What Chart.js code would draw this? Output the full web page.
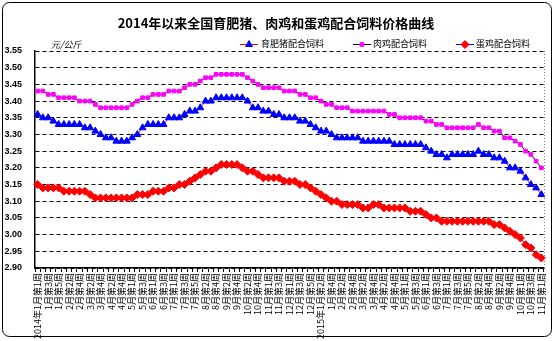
<!DOCTYPE html>
<html><head><meta charset="utf-8">
<script src="https://cdn.jsdelivr.net/npm/chart.js@4/dist/chart.umd.min.js"></script>
<style>html,body{margin:0;padding:0;background:#fff}#wrap{width:554px;height:341px;position:relative}</style>
</head><body><div id="wrap"><canvas id="c" width="554" height="341"></canvas></div>
<script>
const chartTitle = '2014年以来全国育肥猪、肉鸡和蛋鸡配合饲料价格曲线';
const unitLabel = '元/公斤';
const seriesNames = ['育肥猪配合饲料', '肉鸡配合饲料', '蛋鸡配合饲料'];
const weekLabels = [
 '2014年1月第1周','1月第2周','1月第3周','1月第4周','1月第5周',
 '2月第1周','2月第2周','2月第3周','2月第4周',
 '3月第1周','3月第2周','3月第3周','3月第4周',
 '4月第1周','4月第2周','4月第3周','4月第4周','4月第5周',
 '5月第1周','5月第2周','5月第3周','5月第4周',
 '6月第1周','6月第2周','6月第3周','6月第4周',
 '7月第1周','7月第2周','7月第3周','7月第4周','7月第5周',
 '8月第1周','8月第2周','8月第3周','8月第4周',
 '9月第1周','9月第2周','9月第3周','9月第4周',
 '10月第1周','10月第2周','10月第3周','10月第4周','10月第5周',
 '11月第1周','11月第2周','11月第3周','11月第4周',
 '12月第1周','12月第2周','12月第3周','12月第4周','12月第5周',
 '1月第1周','2015年1月第2周','1月第3周','1月第4周',
 '2月第1周','2月第2周','2月第3周','2月第4周',
 '3月第1周','3月第2周','3月第3周','3月第4周',
 '4月第1周','4月第2周','4月第3周','4月第4周','4月第5周',
 '5月第1周','5月第2周','5月第3周','5月第4周',
 '6月第1周','6月第2周','6月第3周','6月第4周',
 '7月第1周','7月第2周','7月第3周','7月第4周','7月第5周',
 '8月第1周','8月第2周','8月第3周','8月第4周',
 '9月第1周','9月第2周','9月第3周','9月第4周','9月第5周',
 '10月第1周','10月第2周','10月第3周','10月第4周',
 '11月第1周'
];
const pigFeed = [
 3.36,3.35,3.35,3.34,3.33,3.33,3.33,3.33,3.33,3.32,
 3.32,3.31,3.30,3.29,3.29,3.28,3.28,3.28,3.29,3.30,
 3.32,3.33,3.33,3.33,3.33,3.35,3.35,3.35,3.36,3.37,
 3.37,3.38,3.40,3.40,3.41,3.41,3.41,3.41,3.41,3.41,
 3.40,3.38,3.38,3.37,3.37,3.36,3.36,3.35,3.35,3.35,
 3.34,3.34,3.33,3.32,3.31,3.31,3.30,3.29,3.29,3.29,
 3.29,3.29,3.28,3.28,3.28,3.28,3.28,3.28,3.27,3.27,
 3.27,3.27,3.27,3.27,3.26,3.25,3.24,3.24,3.23,3.24,
 3.24,3.24,3.24,3.24,3.25,3.24,3.24,3.23,3.23,3.22,
 3.20,3.20,3.19,3.17,3.15,3.14,3.12
];
const broilerFeed = [
 3.43,3.43,3.42,3.42,3.41,3.41,3.41,3.41,3.40,3.40,
 3.40,3.39,3.38,3.38,3.38,3.38,3.38,3.38,3.39,3.40,
 3.41,3.41,3.42,3.42,3.42,3.43,3.43,3.43,3.44,3.45,
 3.45,3.46,3.47,3.47,3.48,3.48,3.48,3.48,3.48,3.48,
 3.47,3.46,3.45,3.44,3.44,3.44,3.44,3.43,3.43,3.43,
 3.42,3.42,3.41,3.41,3.40,3.39,3.39,3.38,3.38,3.38,
 3.37,3.37,3.37,3.37,3.37,3.37,3.37,3.36,3.36,3.35,
 3.35,3.35,3.35,3.35,3.34,3.34,3.33,3.33,3.32,3.32,
 3.32,3.32,3.32,3.32,3.33,3.32,3.32,3.31,3.31,3.29,
 3.29,3.28,3.27,3.25,3.24,3.22,3.20
];
const layerFeed = [
 3.15,3.14,3.14,3.14,3.14,3.13,3.13,3.13,3.13,3.13,
 3.12,3.11,3.11,3.11,3.11,3.11,3.11,3.11,3.11,3.12,
 3.12,3.12,3.13,3.13,3.13,3.14,3.14,3.15,3.15,3.16,
 3.17,3.18,3.19,3.19,3.20,3.21,3.21,3.21,3.21,3.20,
 3.19,3.19,3.18,3.17,3.17,3.17,3.17,3.16,3.16,3.16,
 3.15,3.15,3.14,3.13,3.12,3.11,3.10,3.10,3.09,3.09,
 3.09,3.09,3.08,3.08,3.09,3.09,3.08,3.08,3.08,3.08,
 3.08,3.07,3.07,3.07,3.06,3.05,3.05,3.04,3.04,3.04,
 3.04,3.04,3.04,3.04,3.04,3.04,3.04,3.03,3.03,3.02,
 3.01,3.00,2.99,2.97,2.96,2.94,2.93
];
const yMin = 2.90, yMax = 3.55, yStep = 0.05;

const datasets = [
 {label: seriesNames[0], data: pigFeed, borderColor:'#ff0000', borderWidth:1,
  pointStyle:'triangle', pointRadius:4, pointBackgroundColor:'#0000ff', pointBorderColor:'#0000ff', pointBorderWidth:1},
 {label: seriesNames[1], data: broilerFeed, borderColor:'#000000', borderWidth:1,
  pointStyle:'rect', pointRadius:2.6, pointBackgroundColor:'#ff00ff', pointBorderColor:'#ff00ff', pointBorderWidth:1},
 {label: seriesNames[2], data: layerFeed, borderColor:'#0000ff', borderWidth:1,
  pointStyle:'rectRot', pointRadius:4, pointBackgroundColor:'#ff0000', pointBorderColor:'#ff0000', pointBorderWidth:1}
];

const decor = {
 id:'decor',
 afterDraw(chart){
  const ctx = chart.ctx, a = chart.chartArea;
  ctx.save();
  // outer rounded border
  ctx.strokeStyle = '#000'; ctx.lineWidth = 1;
  ctx.beginPath(); ctx.roundRect(2.5, 2.5, 549, 334, 7); ctx.stroke();
  // dotted right border of plot
  ctx.strokeStyle = '#808080'; ctx.setLineDash([1,2]);
  ctx.beginPath(); ctx.moveTo(Math.round(a.right)+0.5, a.top); ctx.lineTo(Math.round(a.right)+0.5, a.bottom); ctx.stroke();
  ctx.setLineDash([]);
  // title
  ctx.fillStyle = '#000'; ctx.textAlign = 'center'; ctx.textBaseline = 'middle';
  ctx.font = 'bold 13px "Noto Sans CJK SC"';
  ctx.fillText(chartTitle, 276, 23);
  // unit
  ctx.textAlign = 'left';
  ctx.font = 'italic 9px "Noto Sans CJK SC"';
  ctx.fillText(unitLabel, 51, 45);
  // legend
  const items = [
   {x1:240, x2:258, text:261},
   {x1:353, x2:371, text:373},
   {x1:456, x2:474, text:476}
  ];
  ctx.font = '9px "Noto Sans CJK SC"';
  items.forEach((it, i) => {
   const ds = datasets[i];
   const y = 44;
   ctx.strokeStyle = ds.borderColor; ctx.lineWidth = 1;
   ctx.beginPath(); ctx.moveTo(it.x1, y + 0.5); ctx.lineTo(it.x2, y + 0.5); ctx.stroke();
   ctx.fillStyle = ds.pointBackgroundColor; ctx.strokeStyle = ds.pointBorderColor;
   Chart.helpers.drawPoint(ctx, {pointStyle: ds.pointStyle, radius: ds.pointRadius, borderWidth:1, rotation:0}, (it.x1+it.x2)/2, y + 0.5);
   ctx.fillStyle = '#000';
   ctx.fillText(ds.label, it.text, y);
  });
  ctx.restore();
 }
};

new Chart(document.getElementById('c'), {
 type:'line',
 data:{labels: weekLabels, datasets},
 options:{
  responsive:false, animation:false,
  layout:{padding:{top:51, right:10, left:0, bottom:0}},
  plugins:{legend:{display:false}, title:{display:false}, tooltip:{enabled:false}},
  elements:{line:{tension:0}},
  scales:{
   x:{
    type:'category', offset:true,
    grid:{offset:true, drawOnChartArea:false, drawTicks:true, tickLength:4, color:'#000', lineWidth:1},
    border:{color:'#000', width:1.5},
    ticks:{autoSkip:false, minRotation:90, maxRotation:90, padding:1, color:'#000',
      font:{size:9, family:'"Noto Sans CJK SC"'},
      callback:(v, i) => (i % 2 === 0 ? weekLabels[i] : '')},
    afterFit(s){ s.height = 73; }
   },
   y:{
    min:yMin, max:yMax,
    grid:{color:'#000', lineWidth:1, drawTicks:false},
    border:{color:'#000', width:1.5, dash:[4,3]},
    ticks:{stepSize:yStep, padding:13, color:'#000', font:{size:9, weight:'bold', family:'"Liberation Sans"'},
      callback:v => Number(v).toFixed(2)},
    afterFit(s){ s.width = 35; }
   }
  }
 },
 plugins:[decor]
});
</script>
</body></html>
